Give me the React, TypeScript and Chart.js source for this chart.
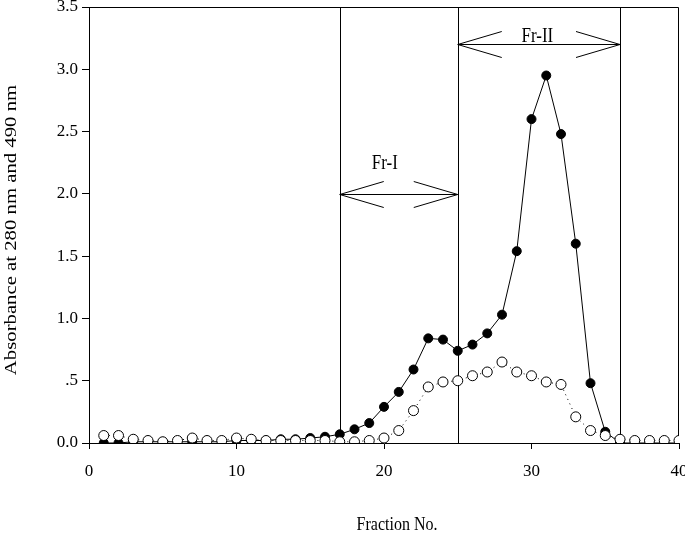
import React, { useEffect, useRef } from "react";
import { Chart, registerables } from "chart.js";

Chart.register(...registerables);

const fractions = [1, 2, 3, 4, 5, 6, 7, 8, 9, 10, 11, 12, 13, 14, 15, 16, 17, 18, 19, 20, 21, 22, 23, 24, 25, 26, 27, 28, 29, 30, 31, 32, 33, 34, 35, 36, 37, 38, 39, 40];
const abs280 = [0.0, 0.0, 0.01, 0.01, 0.01, 0.01, 0.01, 0.01, 0.01, 0.02, 0.02, 0.02, 0.03, 0.03, 0.04, 0.05, 0.07, 0.11, 0.16, 0.29, 0.41, 0.59, 0.84, 0.83, 0.74, 0.79, 0.88, 1.03, 1.54, 2.6, 2.95, 2.48, 1.6, 0.48, 0.09, 0.0, 0.0, 0.0, 0.0, 0.0];
const abs490 = [0.06, 0.06, 0.03, 0.02, 0.01, 0.02, 0.04, 0.02, 0.02, 0.04, 0.03, 0.02, 0.02, 0.02, 0.02, 0.02, 0.01, 0.01, 0.02, 0.04, 0.1, 0.26, 0.45, 0.49, 0.5, 0.54, 0.57, 0.65, 0.57, 0.54, 0.49, 0.47, 0.21, 0.1, 0.06, 0.03, 0.02, 0.02, 0.02, 0.02];

const regionLines = [17, 25, 36];
const regionLabels = ["Fr-I", "Fr-II"];
const arrowFrom = [17, 25];
const arrowTo = [25, 36];
const arrowY = [2.0, 3.2];
const labelX = [20.05, 30.4];
const labelY = [2.24, 3.26];

const xTitle = "Fraction No.";
const yTitle = "Absorbance at 280 nm and 490 nm";
const FONT = "'Liberation Serif', 'Times New Roman', serif";

const annotPlugin = {
  id: "annot",
  beforeDatasetsDraw(chart: any) {
    const { ctx, chartArea, scales } = chart;
    const { left, right, top, bottom } = chartArea;
    const x = scales.x;
    const y = scales.y;
    ctx.save();
    ctx.strokeStyle = "#000";
    ctx.lineWidth = 1;
    ctx.beginPath();
    ctx.moveTo(Math.round(left) + 0.5, Math.round(top) + 0.5);
    ctx.lineTo(Math.round(right) - 0.5, Math.round(top) + 0.5);
    ctx.lineTo(Math.round(right) - 0.5, Math.round(bottom) + 0.5);
    ctx.stroke();
    regionLines.forEach((v) => {
      const px = Math.round(x.getPixelForValue(v)) + 0.5;
      ctx.beginPath();
      ctx.moveTo(px, top);
      ctx.lineTo(px, bottom);
      ctx.stroke();
    });
    for (let i = 0; i < arrowFrom.length; i++) {
      const xa = x.getPixelForValue(arrowFrom[i]);
      const xb = x.getPixelForValue(arrowTo[i]);
      const yy = Math.round(y.getPixelForValue(arrowY[i])) + 0.5;
      const dx = 44;
      const dy = 13;
      ctx.beginPath();
      ctx.moveTo(xa, yy);
      ctx.lineTo(xb, yy);
      ctx.moveTo(xa + dx, yy - dy);
      ctx.lineTo(xa, yy);
      ctx.lineTo(xa + dx, yy + dy);
      ctx.moveTo(xb - dx, yy - dy);
      ctx.lineTo(xb, yy);
      ctx.lineTo(xb - dx, yy + dy);
      ctx.stroke();
    }
    ctx.restore();
  },
  afterDraw(chart: any) {
    const { ctx, scales } = chart;
    const x = scales.x;
    const y = scales.y;
    ctx.save();
    ctx.fillStyle = "#000";
    ctx.textAlign = "center";
    ctx.textBaseline = "middle";
    ctx.font = `17px ${FONT}`;
    for (let i = 0; i < regionLabels.length; i++) {
      const px = x.getPixelForValue(labelX[i]);
      const py = y.getPixelForValue(labelY[i]);
      ctx.save();
      ctx.translate(px, py);
      ctx.scale(1, 1.2);
      ctx.fillText(regionLabels[i], 0, 0);
      ctx.restore();
    }
    ctx.font = `16px ${FONT}`;
    ctx.save();
    ctx.translate(397, 525);
    ctx.scale(1, 1.2);
    ctx.fillText(xTitle, 0, 0);
    ctx.restore();
    ctx.font = `17px ${FONT}`;
    ctx.save();
    ctx.translate(12, 230);
    ctx.rotate(-Math.PI / 2);
    ctx.scale(1.22, 1);
    ctx.fillText(yTitle, 0, 0);
    ctx.restore();
    ctx.restore();
  },
};

export default function App() {
  const ref = useRef<HTMLCanvasElement | null>(null);
  useEffect(() => {
    if (!ref.current) return;
    const chart = new Chart(ref.current, {
      type: "line",
      data: {
        datasets: [
          {
            label: "490 nm",
            data: fractions.map((f, i) => ({ x: f, y: abs490[i] })),
            borderColor: "#000",
            borderWidth: 1,
            borderDash: [1, 4],
            backgroundColor: "#fff",
            pointBackgroundColor: "#fff",
            pointBorderColor: "#000",
            pointBorderWidth: 1,
            pointRadius: 5,
            tension: 0,
          },
          {
            label: "280 nm",
            data: fractions.map((f, i) => ({ x: f, y: abs280[i] })),
            borderColor: "#000",
            borderWidth: 1,
            backgroundColor: "#000",
            pointBackgroundColor: "#000",
            pointBorderColor: "#000",
            pointBorderWidth: 1,
            pointRadius: 4.5,
            tension: 0,
          },
        ],
      },
      options: {
        animation: false,
        responsive: false,
        devicePixelRatio: 1,
        layout: { padding: { top: 7, right: 6, left: 0, bottom: 0 } },
        plugins: { legend: { display: false }, tooltip: { enabled: false } },
        scales: {
          x: {
            type: "linear",
            min: 0,
            max: 40,
            ticks: {
              stepSize: 10,
              color: "#000",
              font: { family: FONT, size: 17 },
              padding: 12,
              maxRotation: 0,
            },
            grid: { drawOnChartArea: false, drawTicks: true, tickLength: 6, color: "#000" },
            border: { display: true, color: "#000", width: 1 },
            afterFit: (s: any) => {
              s.height = 91;
              s.paddingLeft = 0;
              s.paddingRight = 0;
            },
          },
          y: {
            type: "linear",
            min: 0,
            max: 3.5,
            ticks: {
              stepSize: 0.5,
              color: "#000",
              font: { family: FONT, size: 17 },
              padding: 4,
              callback: (v: any) => {
                const n = Number(v);
                if (Math.abs(n - 0.5) < 1e-9) return ".5";
                return n.toFixed(1);
              },
            },
            grid: { drawOnChartArea: false, drawTicks: true, tickLength: 7, color: "#000" },
            border: { display: true, color: "#000", width: 1 },
            afterFit: (s: any) => {
              s.width = 89;
              s.paddingTop = 0;
              s.paddingBottom = 0;
            },
          },
        },
      },
      plugins: [annotPlugin],
    } as any);
    return () => chart.destroy();
  }, []);
  return (
    <div style={{ position: "absolute", left: 0, top: 0, width: 685, height: 534, background: "#fff" }}>
      <canvas ref={ref} width={685} height={534} style={{ display: "block", width: 685, height: 534 }} />
    </div>
  );
}
